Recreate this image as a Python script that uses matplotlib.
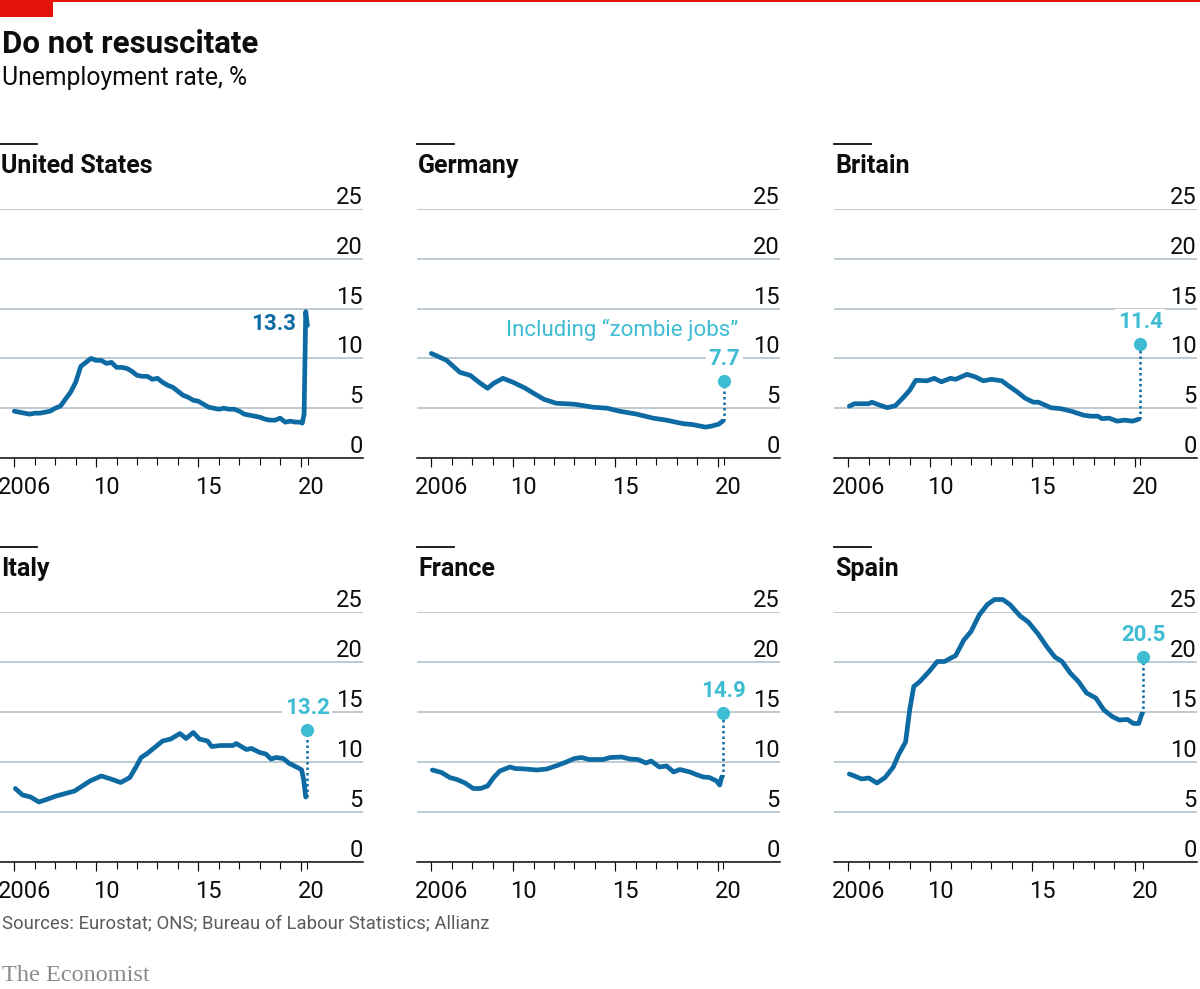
import matplotlib
matplotlib.use("Agg")
from matplotlib import pyplot as plt
from matplotlib.lines import Line2D
from matplotlib.patches import Rectangle

# ---- data (unemployment rate, %) ----
us_years = [2006.0, 2006.25, 2006.5, 2006.75, 2007.0, 2007.25, 2007.5, 2007.75,
            2008.0, 2008.25, 2008.5, 2008.75, 2009.0, 2009.25, 2009.5, 2009.75,
            2010.0, 2010.25, 2010.5, 2010.75, 2011.0, 2011.25, 2011.5, 2011.75,
            2012.0, 2012.25, 2012.5, 2012.75, 2013.0, 2013.25, 2013.5, 2013.75,
            2014.0, 2014.25, 2014.5, 2014.75, 2015.0, 2015.25, 2015.5, 2015.75,
            2016.0, 2016.25, 2016.5, 2016.75, 2017.0, 2017.25, 2017.5, 2017.75,
            2018.0, 2018.25, 2018.5, 2018.75, 2019.0, 2019.25, 2019.5, 2019.75,
            2020.0, 2020.08, 2020.17, 2020.25, 2020.33]
us_rate = [4.7, 4.6, 4.5, 4.4, 4.5, 4.5, 4.6, 4.7,
           5.0, 5.2, 5.9, 6.6, 7.6, 9.2, 9.6, 10.0,
           9.8, 9.8, 9.5, 9.6, 9.1, 9.1, 9.0, 8.7,
           8.3, 8.2, 8.2, 7.9, 8.0, 7.6, 7.3, 7.1,
           6.7, 6.3, 6.1, 5.8, 5.7, 5.4, 5.1, 5.0,
           4.9, 5.0, 4.9, 4.9, 4.7, 4.4, 4.3, 4.2,
           4.1, 3.9, 3.8, 3.8, 4.0, 3.6, 3.7, 3.6,
           3.6, 3.5, 4.4, 14.7, 13.3]

de_years = [2006.0, 2006.75, 2007.4, 2007.9, 2008.4, 2008.75, 2009.05, 2009.5,
            2010.0, 2010.6, 2011.0, 2011.5, 2012.1, 2013.0, 2013.9, 2014.6,
            2015.2, 2016.05, 2016.85, 2017.5, 2018.3, 2018.8, 2019.4, 2019.7,
            2020.05, 2020.25]
de_rate = [10.5, 9.8, 8.6, 8.3, 7.5, 7.0, 7.5, 8.0,
           7.6, 7.0, 6.5, 5.9, 5.5, 5.4, 5.1, 5.0,
           4.7, 4.4, 4.0, 3.8, 3.45, 3.35, 3.1, 3.2,
           3.4, 3.7]

gb_years = [2006.05, 2006.3, 2007.0, 2007.15, 2007.55, 2007.9, 2008.3, 2008.7,
            2009.0, 2009.3, 2009.85, 2010.2, 2010.55, 2011.0, 2011.25, 2011.8,
            2012.2, 2012.6, 2013.0, 2013.5, 2013.9, 2014.25, 2014.65, 2015.05,
            2015.3, 2015.9, 2016.4, 2016.9, 2017.5, 2017.85, 2018.2, 2018.4,
            2018.75, 2019.15, 2019.5, 2019.9, 2020.2]
gb_rate = [5.2, 5.45, 5.45, 5.6, 5.3, 5.05, 5.25, 6.1,
           6.8, 7.8, 7.75, 8.0, 7.65, 8.0, 7.9, 8.4,
           8.15, 7.75, 7.9, 7.75, 7.15, 6.65, 6.0, 5.6,
           5.6, 5.05, 4.95, 4.7, 4.3, 4.2, 4.2, 3.95,
           4.0, 3.7, 3.8, 3.7, 3.9]

it_years = [2006.05, 2006.4, 2006.8, 2007.2, 2007.5, 2008.05, 2008.5, 2008.95,
            2009.25, 2009.7, 2010.25, 2010.65, 2011.2, 2011.65, 2011.95, 2012.2,
            2012.5, 2012.95, 2013.25, 2013.65, 2014.1, 2014.4, 2014.75, 2015.05,
            2015.45, 2015.65, 2016.1, 2016.7, 2016.85, 2017.35, 2017.6, 2018.0,
            2018.3, 2018.55, 2018.8, 2019.15, 2019.45, 2019.9, 2020.05, 2020.15,
            2020.25]
it_rate = [7.35, 6.7, 6.5, 6.0, 6.2, 6.6, 6.85, 7.1,
           7.5, 8.1, 8.6, 8.35, 7.95, 8.45, 9.5, 10.45,
           10.85, 11.6, 12.1, 12.3, 12.85, 12.35, 12.95, 12.3,
           12.1, 11.55, 11.65, 11.65, 11.85, 11.25, 11.35, 10.95,
           10.8, 10.3, 10.45, 10.35, 9.85, 9.4, 9.2, 8.2,
           6.5]

fr_years = [2006.05, 2006.5, 2006.9, 2007.25, 2007.65, 2008.05, 2008.4, 2008.75,
            2009.05, 2009.35, 2009.85, 2010.1, 2010.6, 2011.15, 2011.65, 2012.15,
            2012.6, 2013.0, 2013.35, 2013.7, 2014.4, 2014.75, 2015.3, 2015.7,
            2016.1, 2016.5, 2016.75, 2017.15, 2017.5, 2017.85, 2018.15, 2018.65,
            2018.95, 2019.3, 2019.6, 2019.95, 2020.1, 2020.2]
fr_rate = [9.2, 8.95, 8.45, 8.25, 7.9, 7.35, 7.35, 7.6,
           8.45, 9.1, 9.5, 9.35, 9.3, 9.2, 9.3, 9.65,
           10.0, 10.35, 10.45, 10.25, 10.25, 10.45, 10.5, 10.3,
           10.25, 9.9, 10.1, 9.5, 9.6, 9.0, 9.25, 9.0,
           8.75, 8.5, 8.45, 8.1, 7.7, 8.5]

es_years = [2006.05, 2006.3, 2006.65, 2007.0, 2007.4, 2007.8, 2008.2, 2008.45,
            2008.8, 2009.0, 2009.2, 2009.5, 2009.95, 2010.35, 2010.7, 2011.25,
            2011.65, 2012.0, 2012.4, 2012.8, 2013.15, 2013.55, 2013.9, 2014.4,
            2014.8, 2015.3, 2015.7, 2016.1, 2016.45, 2016.85, 2017.25, 2017.65,
            2018.1, 2018.5, 2018.9, 2019.25, 2019.65, 2019.95, 2020.2, 2020.35]
es_rate = [8.8, 8.6, 8.3, 8.4, 7.9, 8.45, 9.5, 10.7,
           12.0, 15.2, 17.55, 18.05, 19.05, 20.05, 20.05, 20.65,
           22.2, 23.05, 24.7, 25.75, 26.25, 26.25, 25.75, 24.6,
           24.0, 22.75, 21.55, 20.5, 20.05, 18.9, 18.05, 16.9,
           16.4, 15.2, 14.55, 14.2, 14.25, 13.85, 13.85, 14.8]

countries = ["United States", "Germany", "Britain", "Italy", "France", "Spain"]
series = [(us_years, us_rate), (de_years, de_rate), (gb_years, gb_rate),
          (it_years, it_rate), (fr_years, fr_rate), (es_years, es_rate)]
# "including zombie jobs" estimates (None = no estimate)
zombie = [None, 7.7, 11.4, 13.2, 14.9, 20.5]

yticks = [0, 5, 10, 15, 20, 25]
xlabel_pos = [2006.5, 2010.5, 2015.5, 2020.5]
xlabels = ["2006", "10", "15", "20"]
long_ticks = [2006, 2010, 2015, 2020]

BLUE = "#0e6aa3"
CYAN = "#3ebcd2"
GRID = "#b7c6cf"
RED = "#e3120b"
INK = "#0d0d0d"

plt.rcParams['font.family'] = ['Roboto', 'DejaVu Sans']

W, H = 1200, 989
fig = plt.figure(figsize=(W / 100, H / 100), dpi=100)


def fx(px):
    return px / W


def fy(py):
    return 1 - py / H


# layout in pixels
col_left = [0, 417, 834]
ax_w = 363
row_zero = [458, 862]
row_top = [209, 612]
row_title = [173, 576]
row_bar = [144, 547]

for i, name in enumerate(countries):
    r, c = divmod(i, 3)
    L = col_left[c]
    ax = fig.add_axes([fx(L), fy(row_zero[r]), ax_w / W, (row_zero[r] - row_top[r]) / H])
    years, rate = series[i]

    ax.set_xlim(2005.3, 2023.05)
    ax.set_ylim(0, 25)

    ax.plot(years, rate, color=BLUE, lw=3.4, solid_capstyle='round',
            solid_joinstyle='round', clip_on=False, zorder=3)

    # axes styling
    for s in ["left", "right", "top"]:
        ax.spines[s].set_visible(False)
    ax.spines["bottom"].set_color(INK)
    ax.spines["bottom"].set_linewidth(1.1)
    ax.spines["bottom"].set_zorder(4)

    ax.set_yticks(yticks)
    ax.grid(axis='y', color=GRID, lw=1.3)
    ax.yaxis.tick_right()
    ax.tick_params(axis='y', length=0, pad=0, labelsize=17, labelcolor=INK,
                   labelright=True, labelleft=False)
    plt.setp(ax.get_yticklabels(), ha='right', va='bottom')

    ax.set_xticks(xlabel_pos, xlabels)
    ax.set_xticks(list(range(2006, 2021)) + [years[-1] + 0.05], minor=True)
    ax.tick_params(axis='x', which='major', length=0, pad=13, labelsize=17, labelcolor=INK)
    ax.tick_params(axis='x', which='minor', length=5, width=0.8, color=INK)

    # slightly longer ticks at the labelled years
    sec = ax.secondary_xaxis('bottom')
    sec.spines['bottom'].set_visible(False)
    sec.set_xticks(long_ticks, [''] * len(long_ticks))
    sec.tick_params(axis='x', length=6.5, width=0.8, color=INK)

    # annotations
    if zombie[i] is None:
        ax.annotate("13.3", (years[-1], 13.5), xytext=(-8, 0), textcoords='offset points',
                    ha='right', va='center', color=BLUE, fontsize=16, fontweight='bold')
    else:
        dx = years[-1] + 0.08
        ax.plot([dx, dx], [rate[-1], zombie[i]], color=BLUE, lw=1.8, ls=(0, (1, 1.2)),
                clip_on=False, zorder=3)
        ax.plot(dx, zombie[i], 'o', ms=9.5, color=CYAN, mec='none', clip_on=False, zorder=5)
        ax.annotate(f"{zombie[i]}", (dx, zombie[i]), xytext=(0, 16), textcoords='offset points',
                    ha='center', va='center', color=CYAN, fontsize=16, fontweight='bold',
                    bbox=dict(fc='white', ec='none', pad=2), zorder=4)
        if name == "Germany":
            ax.text(2021.0, 12.85, "Including \u201czombie jobs\u201d", ha='right', va='center',
                    color=CYAN, fontsize=16, zorder=4)

    # panel title with small rule
    fig.text(fx(L + 1), fy(row_title[r]), name, ha='left', va='baseline',
             fontsize=18, fontweight='bold', color=INK)
    fig.add_artist(Line2D([fx(L), fx(L + 37)], [fy(row_bar[r]), fy(row_bar[r])],
                          color=INK, lw=1.3, transform=fig.transFigure))

# header
fig.add_artist(Rectangle((0, fy(2)), 1, 2 / H, color=RED, transform=fig.transFigure, lw=0))
fig.add_artist(Rectangle((0, fy(17)), 53 / W, 17 / H, color=RED, transform=fig.transFigure, lw=0))
fig.text(fx(2), fy(53), "Do not resuscitate", ha='left', va='baseline',
         fontsize=22.5, fontweight='bold', color=INK)
fig.text(fx(2), fy(85), "Unemployment rate, %", ha='left', va='baseline',
         fontsize=17.8, color=INK)

# footer
fig.text(fx(2), fy(928), "Sources: Eurostat; ONS; Bureau of Labour Statistics; Allianz",
         ha='left', va='baseline', fontsize=13.3, color="#5b5b5b")
fig.text(fx(2), fy(981), "The Economist", ha='left', va='baseline',
         fontsize=17.5, color="#8a8a8a", family=['Liberation Serif', 'DejaVu Serif'])

fig.savefig("out.png", dpi=100)
